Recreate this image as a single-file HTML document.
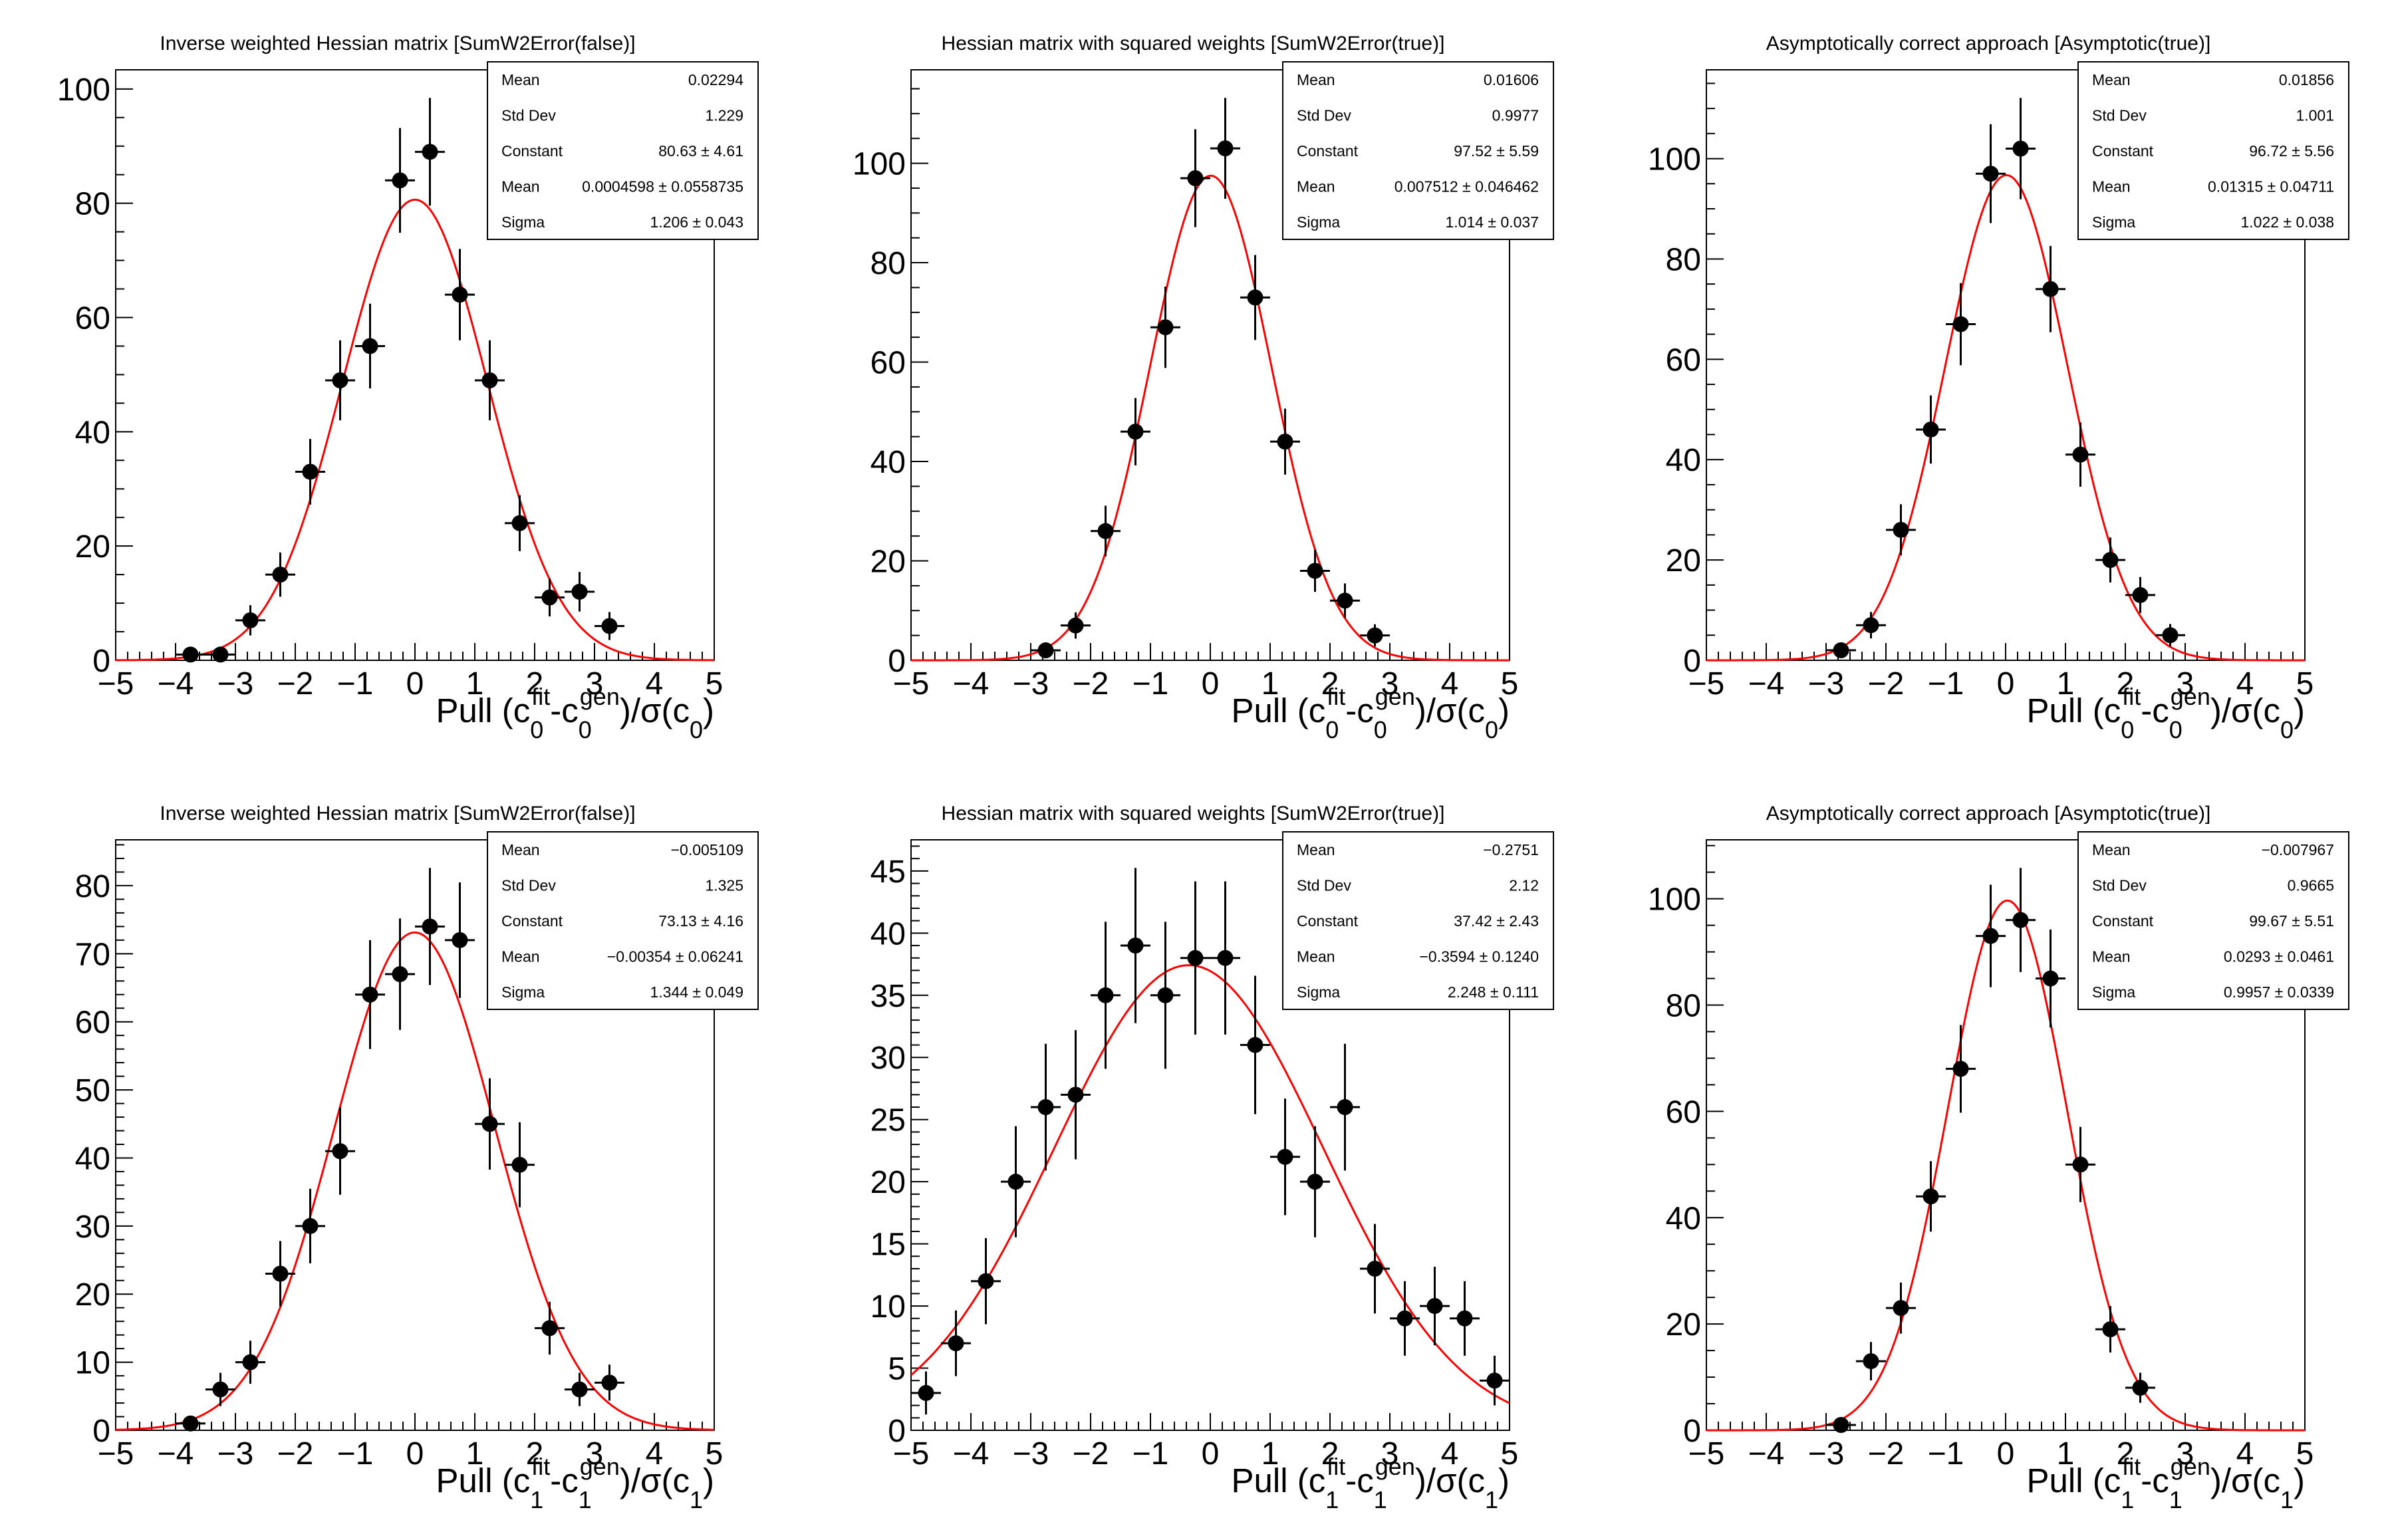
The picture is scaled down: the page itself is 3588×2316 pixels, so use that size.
<!DOCTYPE html>
<html><head><meta charset="utf-8"><style>
html,body{margin:0;padding:0;background:#fff;}
svg{display:block;}
text{font-family:"Liberation Sans","DejaVu Sans",sans-serif;fill:#000;}
</style></head><body>
<svg id="s" width="3588" height="2316" xmlns="http://www.w3.org/2000/svg"></svg>
<script>
const S=document.getElementById('s');let out='';
const panels=[
{c:0,r:0,t:"Inverse weighted Hessian matrix [SumW2Error(false)]",idx:"0",x0:-3.75,v:[1,1,7,15,33,49,55,84,89,64,49,24,11,12,6],A:80.63,m:0.0004598,s:1.206,maj:20,mn:5,
 st:[["Mean","0.02294"],["Std Dev","1.229"],["Constant","80.63 \u00b1 4.61"],["Mean","0.0004598 \u00b1 0.0558735"],["Sigma","1.206 \u00b1 0.043"]]},
{c:1,r:0,t:"Hessian matrix with squared weights [SumW2Error(true)]",idx:"0",x0:-2.75,v:[2,7,26,46,67,97,103,73,44,18,12,5],A:97.52,m:0.007512,s:1.014,maj:20,mn:5,
 st:[["Mean","0.01606"],["Std Dev","0.9977"],["Constant","97.52 \u00b1 5.59"],["Mean","0.007512 \u00b1 0.046462"],["Sigma","1.014 \u00b1 0.037"]]},
{c:2,r:0,t:"Asymptotically correct approach [Asymptotic(true)]",idx:"0",x0:-2.75,v:[2,7,26,46,67,97,102,74,41,20,13,5],A:96.72,m:0.01315,s:1.022,maj:20,mn:5,
 st:[["Mean","0.01856"],["Std Dev","1.001"],["Constant","96.72 \u00b1 5.56"],["Mean","0.01315 \u00b1 0.04711"],["Sigma","1.022 \u00b1 0.038"]]},
{c:0,r:1,t:"Inverse weighted Hessian matrix [SumW2Error(false)]",idx:"1",x0:-3.75,v:[1,6,10,23,30,41,64,67,74,72,45,39,15,6,7],A:73.13,m:-0.00354,s:1.344,maj:10,mn:2,
 st:[["Mean","\u22120.005109"],["Std Dev","1.325"],["Constant","73.13 \u00b1 4.16"],["Mean","\u22120.00354 \u00b1 0.06241"],["Sigma","1.344 \u00b1 0.049"]]},
{c:1,r:1,t:"Hessian matrix with squared weights [SumW2Error(true)]",idx:"1",x0:-4.75,v:[3,7,12,20,26,27,35,39,35,38,38,31,22,20,26,13,9,10,9,4],A:37.42,m:-0.3594,s:2.248,maj:5,mn:1,
 st:[["Mean","\u22120.2751"],["Std Dev","2.12"],["Constant","37.42 \u00b1 2.43"],["Mean","\u22120.3594 \u00b1 0.1240"],["Sigma","2.248 \u00b1 0.111"]]},
{c:2,r:1,t:"Asymptotically correct approach [Asymptotic(true)]",idx:"1",x0:-2.75,v:[1,13,23,44,68,93,96,85,50,19,8],A:99.67,m:0.0293,s:0.9957,maj:20,mn:5,
 st:[["Mean","\u22120.007967"],["Std Dev","0.9665"],["Constant","99.67 \u00b1 5.51"],["Mean","0.0293 \u00b1 0.0461"],["Sigma","0.9957 \u00b1 0.0339"]]}
];
for(const p of panels){
 const ox=p.c*1196, oy=p.r*1158;
 const L=ox+174,R=ox+1074,T=oy+105,B=oy+993;
 let ymax=0;for(const v of p.v)ymax=Math.max(ymax,v+Math.sqrt(v));ymax*=1.05;
 const X=x=>L+(x+5)/10*(R-L), Y=y=>B-y/ymax*(B-T);
 out+=`<text x="${ox+598}" y="${oy+75}" font-size="30" text-anchor="middle">${p.t}</text>`;
 out+=`<rect x="${L}" y="${T}" width="${R-L}" height="${B-T}" fill="none" stroke="#000" stroke-width="2"/>`;
 for(let i=0;i<=50;i++){const x=-5+i*0.2,px=X(x);const maj=i%5==0;out+=`<line x1="${px}" y1="${B}" x2="${px}" y2="${B-(maj?26:13)}" stroke="#000" stroke-width="2"/>`;
  if(maj){const n=Math.round(x);out+=`<text x="${px}" y="${oy+1044}" font-size="48" text-anchor="middle">${n<0?'\u2212'+(-n):n}</text>`;}}
 for(let y=0;y<=ymax+1e-9;y+=p.mn){const py=Y(y);const maj=Math.abs(y/p.maj-Math.round(y/p.maj))<1e-6;
  out+=`<line x1="${L}" y1="${py}" x2="${L+(maj?26:13)}" y2="${py}" stroke="#000" stroke-width="2"/>`;
  if(maj)out+=`<text x="${L-8}" y="${py+17}" font-size="48" text-anchor="end">${Math.round(y)}</text>`;}
 let d='';for(let i=0;i<=200;i++){const x=-5+i*0.05;const y=p.A*Math.exp(-0.5*((x-p.m)/p.s)**2);d+=(i?'L':'M')+X(x).toFixed(1)+','+Y(y).toFixed(1);}
 out+=`<path d="${d}" fill="none" stroke="#f00" stroke-width="3"/>`;
 p.v.forEach((v,i)=>{const x=p.x0+i*0.5,px=X(x),py=Y(v),e=Math.sqrt(v);
  out+=`<line x1="${X(x-0.25)}" y1="${py}" x2="${X(x+0.25)}" y2="${py}" stroke="#000" stroke-width="3"/>`;
  out+=`<line x1="${px}" y1="${Y(v+e)}" x2="${px}" y2="${Math.min(B,Y(v-e))}" stroke="#000" stroke-width="3"/>`;
  out+=`<circle cx="${px}" cy="${py}" r="12" fill="#000"/>`;});
 const bl=ox+733,br=ox+1140,bt=oy+93,bb=oy+360;
 out+=`<rect x="${bl}" y="${bt}" width="${br-bl}" height="${bb-bt}" fill="#fff" stroke="#000" stroke-width="2"/>`;
 p.st.forEach((s,i)=>{const by=oy+128+i*53.5;out+=`<text x="${bl+21}" y="${by}" font-size="23">${s[0]}</text><text x="${br-22}" y="${by}" font-size="23" text-anchor="end">${s[1]}</text>`;});
 const k=p.idx;
 out+=`<text x="${R}" y="${oy+1086}" font-size="51" text-anchor="end">Pull (c<tspan font-size="36" dy="24">${k}</tspan><tspan font-size="36" dx="-18" dy="-50">fit</tspan><tspan dy="26">-c</tspan><tspan font-size="36" dy="24">${k}</tspan><tspan font-size="36" dx="-18" dy="-50">gen</tspan><tspan dy="26">)/\u03c3(c</tspan><tspan font-size="36" dy="24">${k}</tspan><tspan dy="-24">)</tspan></text>`;
}
S.innerHTML=out;
</script>
</body></html>
